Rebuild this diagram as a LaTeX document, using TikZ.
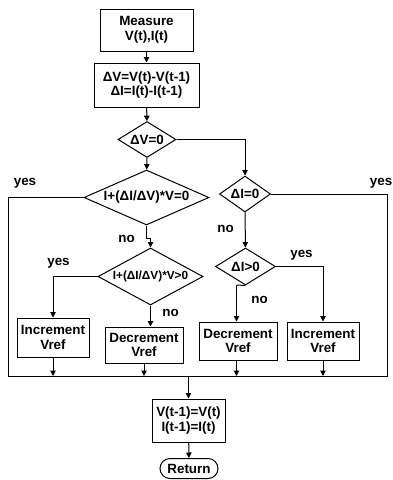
\documentclass[tikz,border=0pt]{standalone}
\usepackage{fontspec}
\setmainfont{Liberation Sans}
\usetikzlibrary{shapes.geometric,shapes.misc,arrows.meta}
\begin{document}
\begin{tikzpicture}[x=1pt,y=-1pt,
  every node/.style={font=\fontsize{13.4}{14.5}\selectfont\bfseries, align=center, inner sep=0pt},
  box/.style={draw, line width=1pt, rectangle},
  dia/.style={draw, line width=1pt, diamond},
  lbl/.style={font=\fontsize{13.4}{14.5}\selectfont\bfseries},
  conn/.style={line width=1pt},
  arr/.style={line width=1pt, -{Triangle[length=5.5pt,width=5.5pt]}}]
\useasboundingbox (0,0) rectangle (393,480);
% nodes
\node[box, minimum width=93pt, minimum height=42pt] (m) at (146.5,30) {Measure\\V(t),I(t)};
\node[box, minimum width=105pt, minimum height=44pt] (d) at (146.5,85) {ΔV=V(t)-V(t-1)\\ΔI=I(t)-I(t-1)};
\node[dia, minimum width=58pt, minimum height=36pt, shape aspect=1.61] (dv) at (147,139.5) {ΔV=0};
\node[dia, minimum width=51pt, minimum height=36pt, shape aspect=1.42] (di) at (245,194) {ΔI=0};
\node[dia, minimum width=125pt, minimum height=55pt, shape aspect=2.27] (c1) at (146.5,197.5) {I+(ΔI/ΔV)*V=0};
\node[dia, minimum width=105pt, minimum height=57pt, shape aspect=1.84, font=\fontsize{11.8}{13}\selectfont\bfseries] (c2) at (150.5,276.5) {I+(ΔI/ΔV)*V>0};
\node[dia, minimum width=60pt, minimum height=37pt, shape aspect=1.62] (dip) at (245.5,266.5) {ΔI>0};
\node[box, minimum width=72pt, minimum height=39pt] (inc1) at (53,337.5) {Increment\\Vref};
\node[box, minimum width=78pt, minimum height=36pt] (dec1) at (144,345) {Decrement\\Vref};
\node[box, minimum width=78pt, minimum height=38pt] (dec2) at (238,341) {Decrement\\Vref};
\node[box, minimum width=72pt, minimum height=38pt] (inc2) at (323,341) {Increment\\Vref};
\node[box, minimum width=73pt, minimum height=43pt] (upd) at (188.5,420.5) {V(t-1)=V(t)\\I(t-1)=I(t)};
\node[draw, line width=1pt, rounded rectangle, minimum width=58pt, minimum height=20pt] (ret) at (189,468.5) {Return};
% coordinates
\coordinate (busL) at (8,376);
\coordinate (busR) at (387,376);
\coordinate (busM) at (188.5,376);
\coordinate (j1) at (146.5,238);
\coordinate (j1b) at (150.5,238);
\coordinate (j2) at (236.5,285);
% labels
\node[lbl] (y1) at (25,183) {yes};
\node[lbl] (n1) at (126.5,239) {no};
\node[lbl] (y2) at (58.5,263) {yes};
\node[lbl] (n2) at (170.5,313) {no};
\node[lbl] (n3) at (225.5,229) {no};
\node[lbl] (y3) at (301.5,255) {yes};
\node[lbl] (n4) at (259.5,300) {no};
\node[lbl, anchor=east] (y4) at (392.5,183) {yes};
% connectors
\draw[arr] (m) -- (d);
\draw[arr] (d) -- (dv);
\draw[arr] (dv) -- (c1);
\draw[arr] (dv.east) -| (di.north);
\draw[conn] (c1.south) -- (j1) -- (j1b);
\draw[arr] (j1b) -- (c2.north);
\draw[arr] (di) -- (dip);
\draw[conn] (dip.south) -- (j2);
\draw[arr] (j2) -- (j2 |- dec2.north);
\draw[arr] (dip.east) -| (inc2.north);
\draw[arr] (c2.west) -| (inc1.north);
\draw[arr] (c2.south) -- (c2.south |- dec1.north);
\draw[conn] (c1.west) -| (busL) -- (busR) |- (di.east);
\draw[arr] (inc1) -- (inc1 |- busL);
\draw[arr] (dec1) -- (dec1 |- busL);
\draw[arr] (dec2.south -| j2) -- (j2 |- busL);
\draw[arr] (inc2) -- (inc2 |- busL);
\draw[arr] (busM) -- (upd);
\draw[arr] (upd) -- (ret);
\end{tikzpicture}
\end{document}
